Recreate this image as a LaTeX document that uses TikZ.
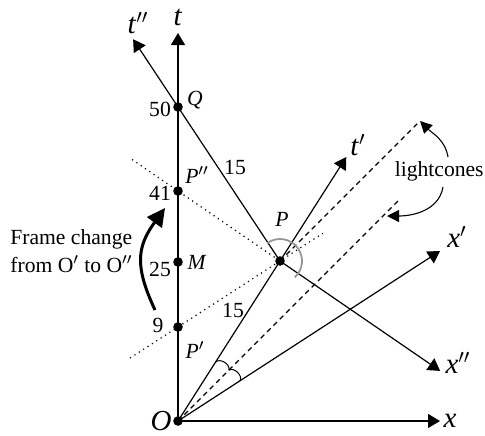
\documentclass[tikz,border=0pt]{standalone}
\usepackage{fontspec}
\setmainfont{Liberation Serif}
\usepackage{xcolor}
\usepackage{tikz}
\definecolor{arcgray}{RGB}{150,150,150}
\usetikzlibrary{arrows.meta, calc}

\begin{document}
\begin{tikzpicture}[x=0.5pt, y=0.5pt,
    axis/.style={-{Triangle[length=6pt,width=7pt]}, line width=0.6pt},
    cone/.style={line width=0.55pt, dash pattern=on 2.5pt off 2pt},
    sim/.style={line width=0.6pt, dotted},
    lbl/.style={font=\fontsize{10.8}{13.8}\selectfont},
    axlbl/.style={font=\fontsize{14.5}{17}\selectfont},
    note/.style={-{Triangle[length=6pt,width=6pt]}, line width=0.55pt},
    bigarr/.style={-{Triangle[length=9pt,width=9pt]}, line width=1.5pt}
]
    \useasboundingbox (0,0) rectangle (485,435);
    \coordinate (O)    at (178,14);
    \coordinate (Q)    at (178,328);
    \coordinate (Ppp)  at (178,244);
    \coordinate (M)    at (178,173);
    \coordinate (Pp)   at (178,108);
    \coordinate (P)    at (280,174);
    \coordinate (tT)   at (178,402);
    \coordinate (xT)   at (440,14);
    \coordinate (xpT)  at (440,184);
    \coordinate (tpT)  at ($(O)!1.65!(P)$);
    \coordinate (tppT) at ($(P)!1.44!(Q)$);
    \coordinate (xppT) at ($(P)!-1.57!(Ppp)$);
    \coordinate (lcA)  at (420,314);
    \coordinate (lcB)  at (398,234);
    \draw[sim] ($(P)!1.45!(Ppp)$) -- (P);
    \draw[sim] ($(Pp)!-0.47!(P)$) -- ($(P)!-0.42!(Pp)$);
    \draw[cone] (O) -- (lcB);
    \draw[cone] (P) -- (lcA);
    \draw[axis] (O) -- (tT);
    \draw[axis] (O) -- (xT);
    \draw[axis] (O) -- (xpT);
    \draw[axis] (O) -- (tpT);
    \draw[axis] (P) -- (tppT);
    \draw[axis] (P) -- (xppT);
    \draw[line width=0.5pt] ($(O)+(57.5:70)$) to[bend left=75] ($(O)+(45:72)$);
    \draw[line width=0.5pt] ($(O)+(45:72)$) to[bend left=75] ($(O)+(33:74)$);
    \draw[arcgray, line width=0.9pt] ($(P)+(125:22)$) arc[start angle=125, end angle=-48, radius=22];
    \foreach \p in {O,Q,Ppp,M,Pp,P}
        \fill (\p) circle[radius=2.4pt];
    \node[axlbl] (tL)   at (178,418) {\textit{t}};
    \node[axlbl] (tppL) at (138,412) {\textit{t}$''$};
    \node[axlbl] (tpL)  at (358,290) {\textit{t}$'$};
    \node[axlbl] (xpL)  at (457,198) {\textit{x}$'$};
    \node[axlbl] (xppL) at (458,72)  {\textit{x}$''$};
    \node[axlbl] (xL)   at (450,14)  {\textit{x}};
    \node[axlbl] (OL)   at (161,14)  {\textit{O}};
    \node[lbl] (QL)   at (195,335) {\textit{Q}};
    \node[lbl] (PppL) at (197,260) {\textit{P}$''$};
    \node[lbl] (ML)   at (197,173) {\textit{M}};
    \node[lbl] (PpL)  at (195,85)  {\textit{P}$'$};
    \node[lbl] (PL)   at (282,216) {\textit{P}};
    \node[lbl] (n50)  at (160,326) {50};
    \node[lbl] (n41)  at (160,242) {41};
    \node[lbl] (n25)  at (160,166) {25};
    \node[lbl] (n9)   at (158,110) {9};
    \node[lbl] (d15a) at (235,268) {15};
    \node[lbl] (d15b) at (233,125) {15};
    \node[lbl, align=left, anchor=west, inner sep=0pt] (fcL) at (10,184) {Frame change\\from O$'$ to O$''$};
    \node[lbl, anchor=east, inner sep=0pt] (lcL) at (484,264) {lightcones};
    \coordinate (fcA)  at (155,125);
    \coordinate (fcB)  at (165,227);
    \coordinate (lcAs) at (448,278);
    \coordinate (lcBs) at (443,248);
    \coordinate (lcBt) at (387,219);
    \draw[bigarr] (fcA) to[out=115, in=234, looseness=1.2] (fcB);
    \draw[note] (lcAs) to[out=100, in=-45] (lcA);
    \draw[note] (lcBs) to[out=-100, in=0] (lcBt);
\end{tikzpicture}
\end{document}
